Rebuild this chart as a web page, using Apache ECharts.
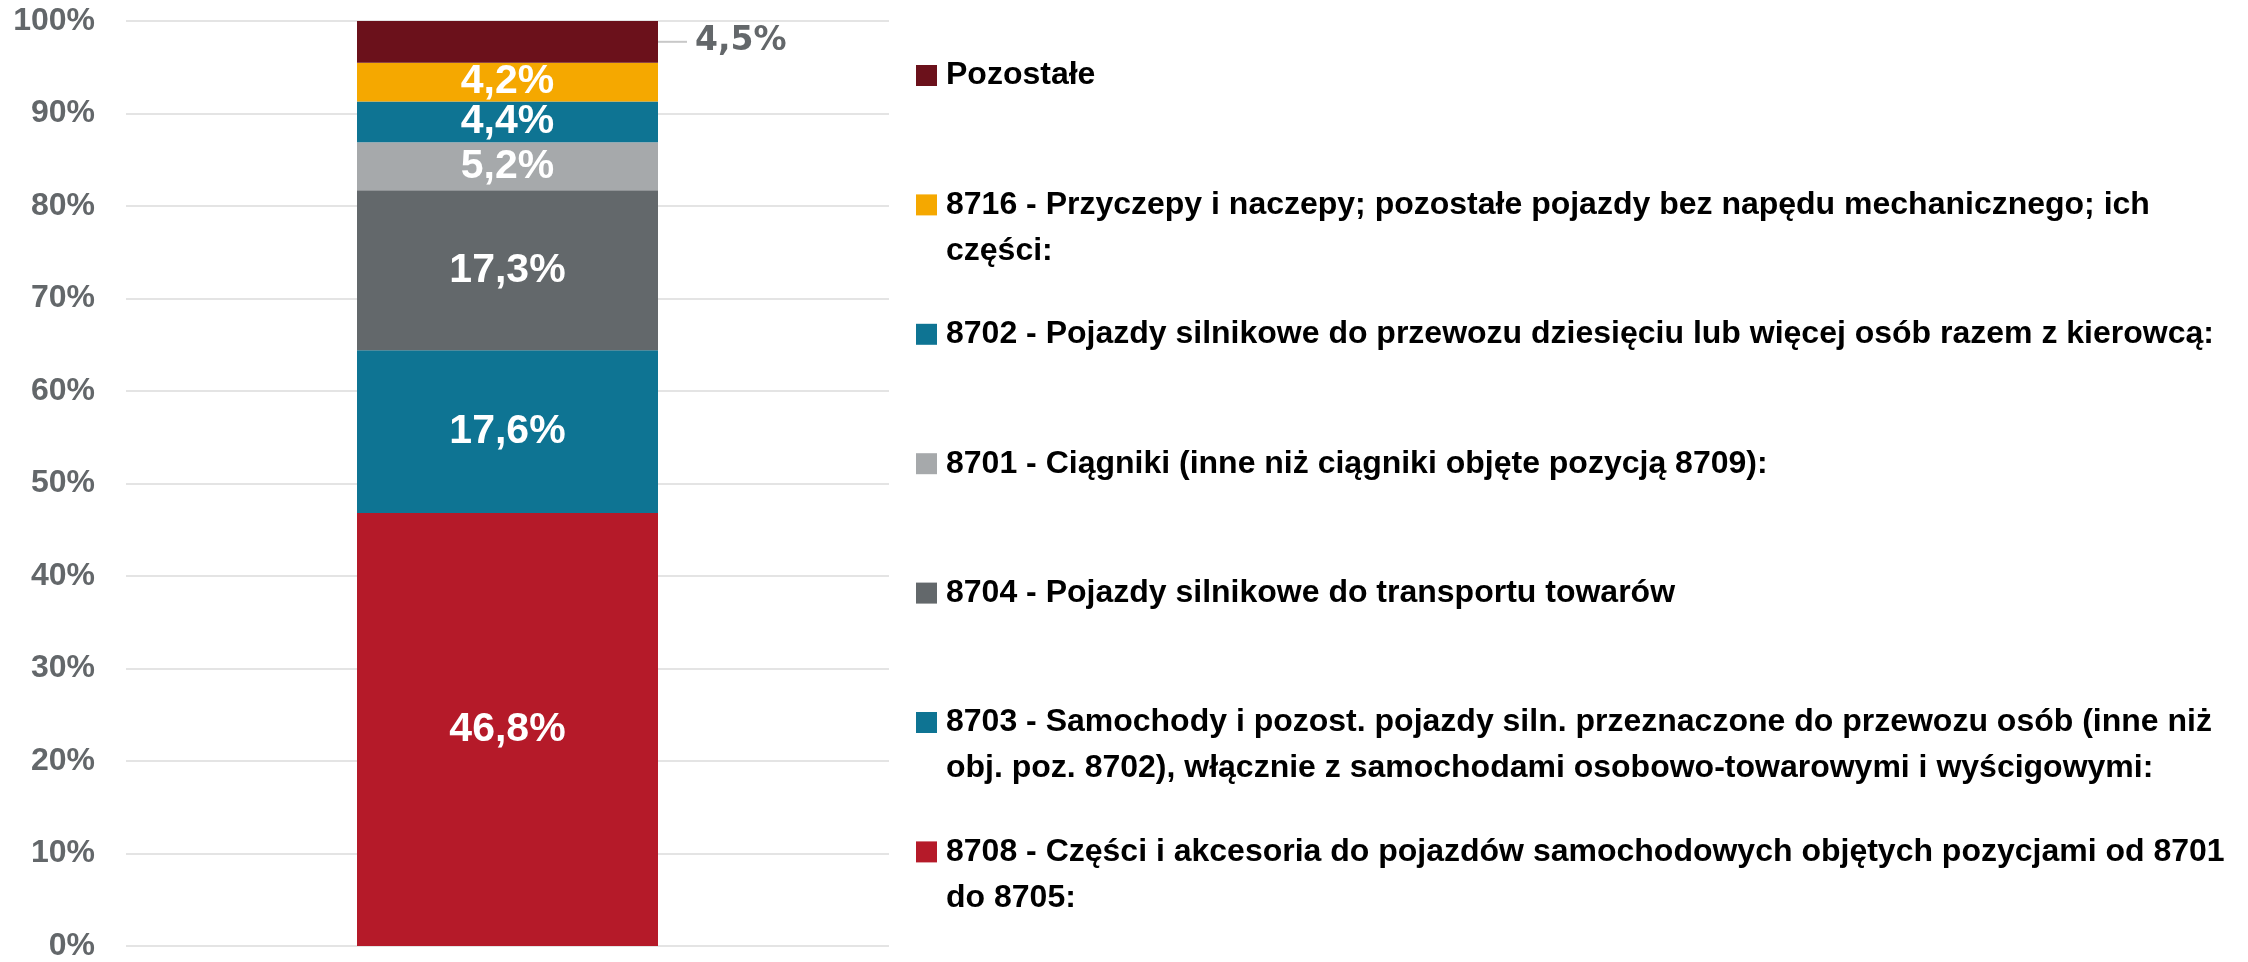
<!DOCTYPE html>
<html>
<head>
<meta charset="utf-8">
<script src="https://cdn.jsdelivr.net/npm/echarts@6/dist/echarts.min.js"></script>
<style>
  html, body { margin: 0; padding: 0; background: #fff; }
  #chart { width: 2248px; height: 962px; }
</style>
</head>
<body>
<div id="chart"></div>
<script>
// stacking order, bottom to top
const seriesNames = [
  '8708 - Części i akcesoria do pojazdów samochodowych objętych pozycjami od 8701\ndo 8705:',
  '8703 - Samochody i pozost. pojazdy siln. przeznaczone do przewozu osób (inne niż\nobj. poz. 8702), włącznie z samochodami osobowo-towarowymi i wyścigowymi:',
  '8704 - Pojazdy silnikowe do transportu towarów',
  '8701 - Ciągniki (inne niż ciągniki objęte pozycją 8709):',
  '8702 - Pojazdy silnikowe do przewozu dziesięciu lub więcej osób razem z kierowcą:',
  '8716 - Przyczepy i naczepy; pozostałe pojazdy bez napędu mechanicznego; ich\nczęści:',
  'Pozostałe'
];
const shares = [46.8, 17.6, 17.3, 5.2, 4.4, 4.2, 4.5];
const colors = ['#b51a29', '#0e7493', '#63686b', '#a6a9ab', '#0e7493', '#f5a800', '#6b111b'];
const categories = ['2023'];

const FONT = 'Liberation Sans';
const legendTop = 75.5;   // centre of first legend line
const legendStep = 129.4;
const lineStep = 46;

function pct(v) {
  return String(v).replace('.', ',') + '%';
}

const series = seriesNames.map((name, i) => {
  const last = i === seriesNames.length - 1;
  return {
    name,
    type: 'bar',
    stack: 'total',
    barWidth: 301,
    data: [shares[i]],
    itemStyle: { color: colors[i] },
    label: last ? {
      // outside label with a short leader line
      show: true,
      position: 'right',
      distance: 0,
      formatter: p => '{l|}{v|' + pct(p.value) + '}',
      rich: {
        l: { width: 29, height: 2, backgroundColor: '#c8c8c8' },
        v: {
          color: '#63676a',
          fontFamily: 'DejaVu Sans',
          fontWeight: 'bold',
          fontSize: 33,
          padding: [0, 0, 0, 8]
        }
      }
    } : {
      show: true,
      position: 'inside',
      formatter: p => pct(p.value),
      color: '#ffffff',
      fontFamily: FONT,
      fontWeight: 'bold',
      fontSize: 41
    }
  };
});

// legend, top to bottom = reverse stacking order
const legendOrder = seriesNames.slice().reverse();
const legends = legendOrder.map((name, k) => ({
  data: [name],
  left: 916,
  top: legendTop + k * legendStep - lineStep / 2,
  orient: 'vertical',
  padding: 0,
  icon: 'rect',
  itemWidth: 21,
  itemHeight: 21,
  selectedMode: false,
  formatter: n => n.split('\n')[0],
  textStyle: {
    color: '#000000',
    fontFamily: FONT,
    fontWeight: 'bold',
    fontSize: 32,
    lineHeight: lineStep,
    padding: [0, 0, 0, 4]
  }
}));

const secondLines = [];
legendOrder.forEach((name, k) => {
  const parts = name.split('\n');
  if (parts.length > 1) {
    secondLines.push({
      type: 'text',
      left: 946,
      top: legendTop + k * legendStep + lineStep - lineStep / 2,
      style: {
        text: parts[1],
        fill: '#000000',
        font: 'bold 32px "' + FONT + '"',
        lineHeight: lineStep,
        height: lineStep,
        verticalAlign: 'middle'
      }
    });
  }
});

const chart = echarts.init(document.getElementById('chart'));
chart.setOption({
  animation: false,
  grid: { left: 126, right: 1359, top: 21, bottom: 13 },
  xAxis: {
    type: 'category',
    data: categories,
    axisLine: { show: false },
    axisTick: { show: false },
    axisLabel: { show: false }
  },
  yAxis: {
    type: 'value',
    min: 0,
    max: 100,
    interval: 10,
    axisLine: { show: false },
    axisTick: { show: false },
    axisLabel: {
      formatter: '{value}%',
      color: '#63676a',
      fontFamily: FONT,
      fontWeight: 'bold',
      fontSize: 32,
      margin: 31
    },
    splitLine: { lineStyle: { color: '#e4e4e4', width: 2 } }
  },
  legend: legends,
  graphic: secondLines,
  series
});
</script>
</body>
</html>
